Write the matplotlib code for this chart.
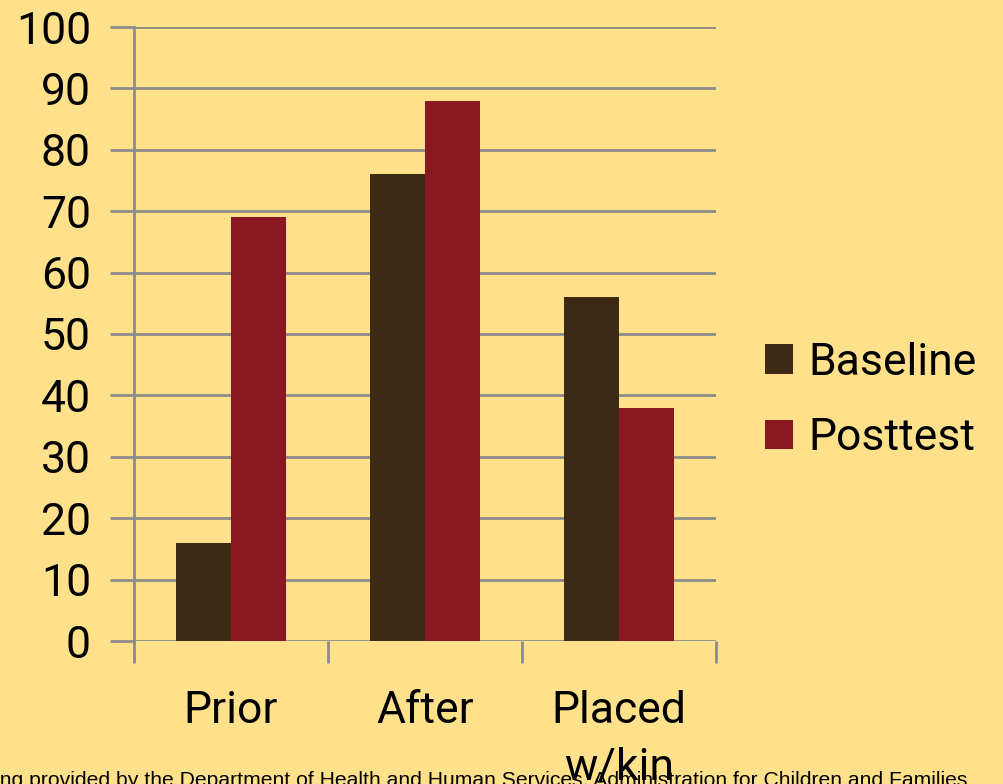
import matplotlib.pyplot as plt
import numpy as np

# survey results, percent
categories = ["Prior", "After", "Placed\nw/kin"]
baseline = [16, 76, 56]
posttest = [69, 88, 38]
yticks = [0, 10, 20, 30, 40, 50, 60, 70, 80, 90, 100]

bg = "#FFE18C"
grid_c = "#8C8C8C"
plt.rcParams["font.family"] = ["Roboto", "DejaVu Sans"]

fig = plt.figure(figsize=(10.04, 7.84), dpi=100, facecolor=bg)
ax = fig.add_axes([134 / 1004, 1 - 641 / 784, 582 / 1004, 614 / 784])
ax.set_facecolor(bg)

x = np.arange(len(categories))
w = 0.284
ax.bar(x - w / 2, baseline, w, color="#3D2914", label="Baseline", zorder=3)
ax.bar(x + w / 2, posttest, w, color="#8A1820", label="Posttest", zorder=3)

ax.set_xlim(-0.5, 2.5)
ax.set_ylim(0, 100)
ax.set_yticks(yticks)
ax.yaxis.grid(True, color=grid_c, lw=2, zorder=0)
ax.tick_params(axis="y", length=17, width=2, color=grid_c, pad=14, labelsize=32)

# boundary ticks below the axis, labels centred under each group
ax.set_xticks([-0.5, 0.5, 1.5, 2.5])
ax.set_xticklabels([])
ax.tick_params(axis="x", which="major", length=16, width=2, color=grid_c)
ax.set_xticks(x, minor=True)
ax.set_xticklabels(categories, minor=True, fontsize=32, linespacing=1.45)
ax.tick_params(axis="x", which="minor", length=0, pad=35)

for s in ["top", "right", "bottom"]:
    ax.spines[s].set_visible(False)
ax.spines["left"].set_color(grid_c)
ax.spines["left"].set_linewidth(2)

ax.legend(loc="center left", bbox_to_anchor=(1.084, 0.392), frameon=False,
          fontsize=32, handlelength=0.63, handleheight=0.63, handletextpad=0.34,
          labelspacing=0.75, borderpad=0, borderaxespad=0)

fig.text(967 / 1004, -2 / 784,
         "Funding provided by the Department of Health and Human Services, Administration for Children and Families",
         ha="right", va="baseline", fontsize=15.2, family="Liberation Sans")

fig.savefig("out.png", dpi=100, facecolor=bg)
